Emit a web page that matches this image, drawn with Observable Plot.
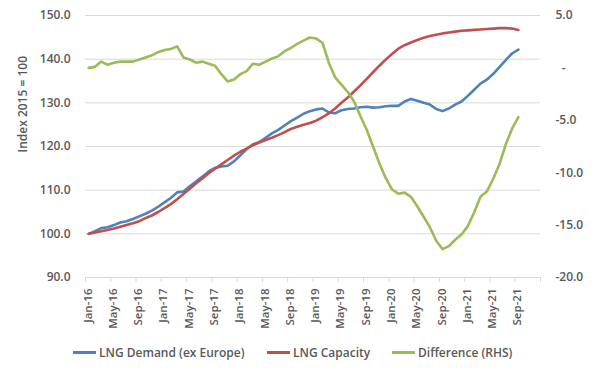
<!DOCTYPE html>
<html><head><meta charset="utf-8">
<script src="https://cdn.jsdelivr.net/npm/d3@7"></script>
<script src="https://cdn.jsdelivr.net/npm/@observablehq/plot@0.6"></script>
<style>
body{margin:0;background:#fff;font-family:"Open Sans",sans-serif;}
#wrap{position:relative;width:601px;height:371px;overflow:hidden;}
#legend{position:absolute;top:343px;left:0;width:601px;height:18px;font-size:12px;font-weight:600;color:#595959;}
.item{position:absolute;top:0;display:flex;align-items:center;height:18px;white-space:nowrap;}
.sw{width:23px;height:3px;margin-right:3px;}
</style></head><body><div id="wrap"></div>
<script>
// Monthly data, Jan-16 .. Sep-21 (index 0 = Jan-16)
const demand = [100.0,100.6,101.3,101.5,102.0,102.6,102.9,103.4,104.0,104.6,105.3,106.2,
107.2,108.2,109.5,109.7,110.9,112.0,113.1,114.3,115.1,115.4,115.6,116.6,
118.0,119.4,120.5,121.0,122.0,123.0,123.8,124.8,125.8,126.6,127.5,128.1,
128.5,128.7,127.8,127.6,128.3,128.6,128.7,129.0,129.1,128.9,129.0,129.2,
129.3,129.3,130.3,130.9,130.5,130.0,129.6,128.6,128.1,128.7,129.6,130.3,
131.6,133.0,134.4,135.3,136.6,138.2,139.8,141.3,142.2];
const capacity = [100.0,100.3,100.6,100.9,101.2,101.6,102.0,102.4,102.9,103.6,104.2,105.0,
105.9,106.8,107.9,109.1,110.3,111.6,112.7,113.9,114.9,115.9,116.9,117.9,
118.8,119.5,120.3,120.9,121.5,122.0,122.6,123.3,124.0,124.5,125.0,125.4,
125.9,126.7,127.6,128.7,130.0,131.2,132.6,134.0,135.5,137.0,138.5,139.9,
141.2,142.4,143.2,143.8,144.4,144.9,145.3,145.6,145.9,146.1,146.3,146.5,
146.6,146.7,146.8,146.9,147.0,147.1,147.1,147.0,146.7];
const difference = [0.0,0.1,0.6,0.3,0.5,0.6,0.6,0.6,0.8,1.0,1.2,1.5,
1.7,1.8,2.05,1.0,0.8,0.5,0.6,0.4,0.2,-0.6,-1.3,-1.1,
-0.6,-0.3,0.4,0.3,0.6,0.9,1.1,1.6,1.9,2.3,2.6,2.9,
2.8,2.4,0.5,-0.9,-1.6,-2.3,-3.2,-4.6,-5.9,-7.5,-9.1,-10.5,
-11.6,-12.0,-11.9,-12.3,-13.2,-14.2,-15.2,-16.5,-17.3,-17.0,-16.4,-15.9,
-15.1,-13.8,-12.3,-11.8,-10.6,-9.2,-7.3,-5.8,-4.7];
const tickLabels = ["Jan-16","May-16","Sep-16","Jan-17","May-17","Sep-17","Jan-18","May-18",
"Sep-18","Jan-19","May-19","Sep-19","Jan-20","May-20","Sep-20","Jan-21","May-21","Sep-21"];
const leftTicks = [90,100,110,120,130,140,150];
const rightTicks = [-20,-15,-10,-5,0,5];
const seriesNames = ["LNG Demand (ex Europe)","LNG Capacity","Difference (RHS)"];
const colors = ["#4F81BD","#C0504D","#9BBB59"];

const y2 = d3.scaleLinear([-20,5],[90,150]);
const idx = d3.range(demand.length);
const tickPos = tickLabels.map((d,i)=>i*4);
const boundaries = d3.range(0,73,4).map(d=>d-0.5);

const chart = Plot.plot({
  width:601, height:335, marginLeft:85, marginRight:61, marginTop:15, marginBottom:58,
  x:{domain:[-0.5,71.5], axis:null},
  y:{domain:[90,150], axis:null},
  style:{fontFamily:"'Open Sans', sans-serif", fontSize:"12px", color:"#595959", background:"white", fontWeight:"600"},
  marks:[
    Plot.ruleY(leftTicks, {y:d=>d, stroke:"#d9d9d9", strokeWidth:1, strokeOpacity:1}),
    Plot.axisX(boundaries, {tickSize:5, tickFormat:()=>"", stroke:"#d9d9d9", strokeOpacity:1}),
    Plot.axisY(leftTicks, {anchor:"left", tickSize:0, tickPadding:15, tickFormat:d=>d.toFixed(1), label:null, fontSize:12}),
    Plot.axisY(rightTicks.map(y2), {anchor:"right", tickSize:0, tickPadding:15, label:null, fontSize:12,
      tickFormat:v=>{const d=Math.round(y2.invert(v)); return d===0 ? "\u00a0\u00a0-" : d.toFixed(1);}}),
    Plot.text(tickPos, {x:d=>d, text:(d,i)=>tickLabels[i], frameAnchor:"bottom", rotate:-90, textAnchor:"end", dy:11, dx:3, fontSize:11.5}),
    Plot.text(["Index 2015 = 100"], {frameAnchor:"left", rotate:-90, dx:-62, dy:6, fontSize:12}),
    Plot.line(idx, {x:i=>i, y:i=>demand[i], stroke:colors[0], strokeWidth:2.6, strokeLinejoin:"round", strokeLinecap:"round"}),
    Plot.line(idx, {x:i=>i, y:i=>capacity[i], stroke:colors[1], strokeWidth:2.6, strokeLinejoin:"round", strokeLinecap:"round"}),
    Plot.line(idx, {x:i=>i, y:i=>y2(difference[i]), stroke:colors[2], strokeWidth:2.6, strokeLinejoin:"round", strokeLinecap:"round"})
  ]
});
const wrap = document.getElementById("wrap");
wrap.appendChild(chart);
const legend = document.createElement("div");
legend.id = "legend";
const lefts = [73,267,392];
seriesNames.forEach((name,i)=>{
  const it = document.createElement("div");
  it.className = "item";
  it.style.left = lefts[i]+"px";
  it.innerHTML = `<span class="sw" style="background:${colors[i]}"></span><span>${name}</span>`;
  legend.appendChild(it);
});
wrap.appendChild(legend);
</script>
</body></html>
